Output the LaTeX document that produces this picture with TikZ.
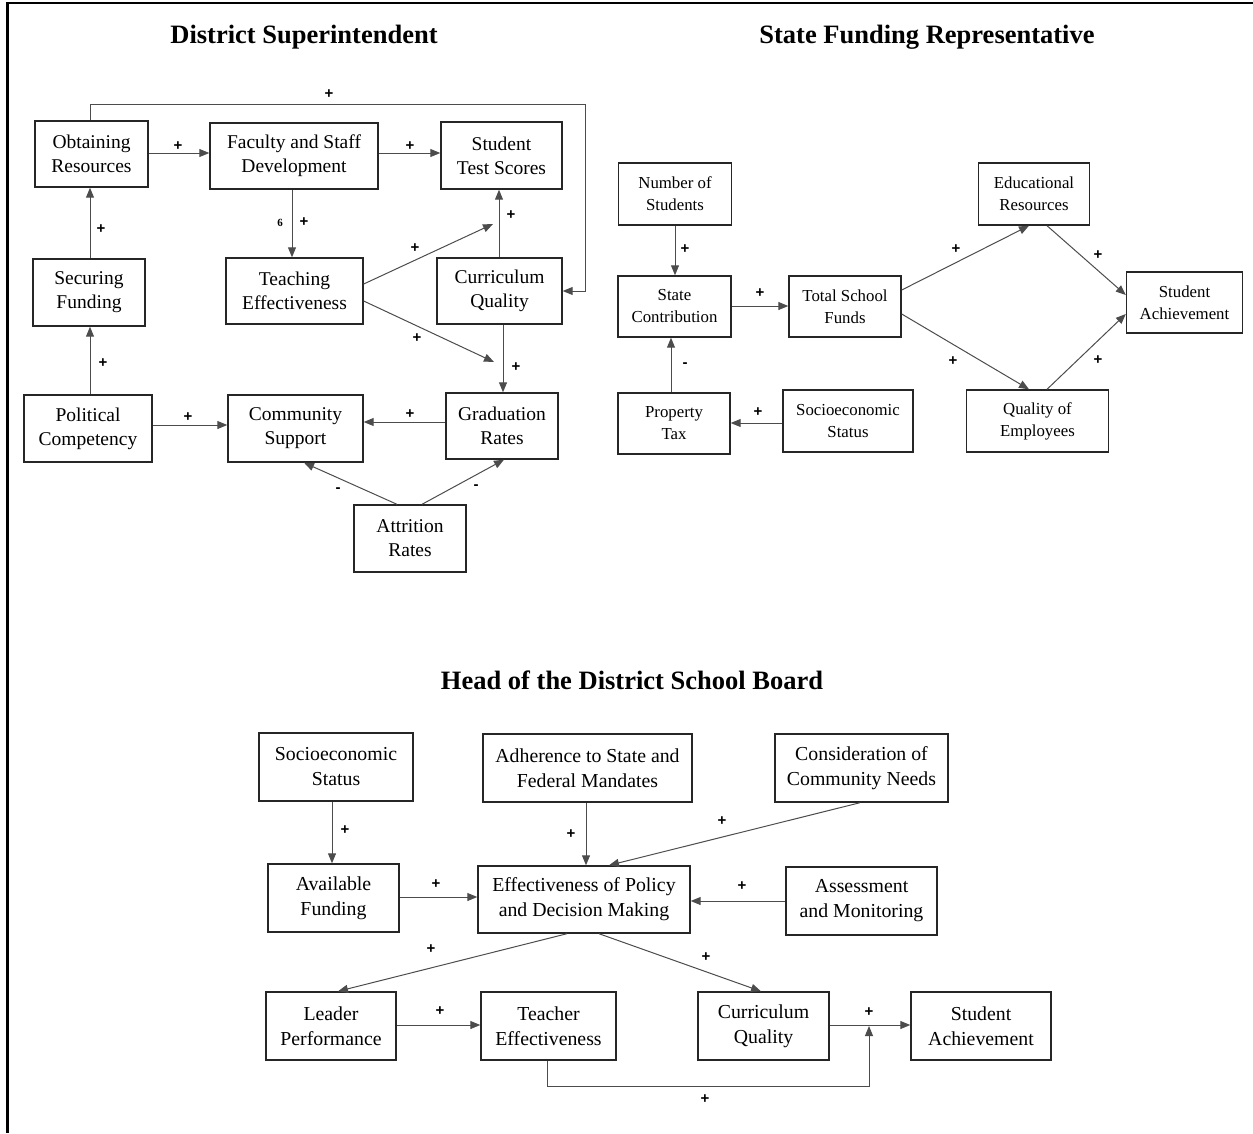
\documentclass[tikz,border=0pt]{standalone}
\usepackage{fontspec}
\setmainfont{Liberation Serif}
\newfontfamily\signfont{Liberation Sans}
\usetikzlibrary{arrows.meta}
\begin{document}
\begin{tikzpicture}[x=1pt,y=-1pt,
 box/.style={draw=black!85, line width=1.4pt, inner sep=0pt, align=center, font=\fontsize{19.5}{24}\selectfont},
 sbox/.style={box, font=\fontsize{16.8}{22}\selectfont},
 hbox/.style={box, font=\fontsize{19.8}{25}\selectfont},
 arr/.style={draw=black!70, line width=1pt, -{Triangle[length=10pt,width=8pt]}},
 sgn/.style={font=\signfont\bfseries\fontsize{15}{15}\selectfont, inner sep=0pt},
 tiny/.style={font=\bfseries\fontsize{11}{11}\selectfont, inner sep=0pt},
 ttl/.style={font=\bfseries\fontsize{26.5}{30}\selectfont, inner sep=0pt}]

\useasboundingbox (0,0) rectangle (1253,1133);
\draw[line width=2pt] (6,3) -- (1253,3);
\draw[line width=2.5pt] (7.5,2) -- (7.5,1133);

% ---------------- District Superintendent
\node[ttl] (t1) at (304,37) {District Superintendent};
\node[box, minimum width=113, minimum height=66] (obt) at (91.5,154) {Obtaining\\Resources};
\node[box, minimum width=168, minimum height=66] (fac) at (294,156) {Faculty and Staff\\Development};
\node[box, minimum width=121, minimum height=67] (sts) at (501.5,155.5) {Student\\Test Scores};
\node[box, minimum width=112, minimum height=67] (sec) at (89,292.5) {Securing\\Funding};
\node[box, minimum width=137, minimum height=66] (tea) at (294.5,291) {Teaching\\Effectiveness};
\node[box, minimum width=125, minimum height=66] (cur) at (499.5,291) {Curriculum\\Quality};
\node[box, minimum width=128, minimum height=67] (pol) at (88,428.5) {Political\\Competency};
\node[box, minimum width=135, minimum height=67] (com) at (295.5,428.5) {Community\\Support};
\node[box, minimum width=112, minimum height=66] (gra) at (502,426) {Graduation\\Rates};
\node[box, minimum width=112, minimum height=67] (att) at (410,538.5) {Attrition\\Rates};

\coordinate (fb) at (585,104);
\draw[arr] (obt.north -| 90,0) |- (fb) |- (cur.east);
\node[sgn] (s1) at (329,94) {+};
\draw[arr] (obt.east |- 0,153) -- (fac.west |- 0,153);
\node[sgn] (s2) at (178,146) {+};
\draw[arr] (fac.east |- 0,153) -- (sts.west |- 0,153);
\node[sgn] (s3) at (410,146) {+};
\draw[arr] (fac.south -| 292,0) -- (tea.north -| 292,0);
\node[tiny] (s4a) at (280,223) {6};
\node[sgn] (s4) at (304,222) {+};
\draw[arr] (sec.north -| 90,0) -- (obt.south -| 90,0);
\node[sgn] (s5) at (101,229) {+};
\draw[arr] (pol.north -| 90,0) -- (sec.south -| 90,0);
\node[sgn] (s6) at (103,363) {+};
\coordinate (ta) at (493,224);
\coordinate (tb) at (494,362);
\draw[arr] (tea.east |- 0,284) -- (ta);
\node[sgn] (s7) at (415,248) {+};
\draw[arr] (tea.east |- 0,301) -- (tb);
\node[sgn] (s8) at (417,338) {+};
\draw[arr] (cur.north -| 499,0) -- (sts.south -| 499,0);
\node[sgn] (s9) at (511,215) {+};
\draw[arr] (cur.south -| 503,0) -- (gra.north -| 503,0);
\node[sgn] (s10) at (516,367) {+};
\draw[arr] (pol.east |- 0,425) -- (com.west |- 0,425);
\node[sgn] (s11) at (188,417) {+};
\draw[arr] (gra.west |- 0,422) -- (com.east |- 0,422);
\node[sgn] (s12) at (410,414) {+};
\draw[arr] (att.north -| 397,0) -- (com.south -| 304,0);
\node[sgn] (s13) at (338,490) {-};
\draw[arr] (att.north -| 422,0) -- (gra.south -| 504,0);
\node[sgn] (s14) at (476,487) {-};

% ---------------- State Funding Representative
\node[ttl] (t2) at (927,37) {State Funding Representative};
\node[sbox, minimum width=113, minimum height=62] (nos) at (675,194) {Number of\\Students};
\node[sbox, minimum width=113, minimum height=61] (stc) at (674.5,306.5) {State\\Contribution};
\node[sbox, minimum width=112, minimum height=61] (tsf) at (845,306.5) {Total School\\Funds};
\node[sbox, minimum width=111, minimum height=62] (edu) at (1034,194) {Educational\\Resources};
\node[sbox, minimum width=116, minimum height=61] (sach) at (1184.5,302.5) {Student\\Achievement};
\node[sbox, minimum width=112, minimum height=61] (ptx) at (674,423.5) {Property\\Tax};
\node[sbox, minimum width=130, minimum height=62] (ses) at (848,421) {Socioeconomic\\Status};
\node[sbox, minimum width=142, minimum height=62] (qoe) at (1037.5,421) {Quality of\\Employees};

\draw[arr] (nos.south -| 675,0) -- (stc.north -| 675,0);
\node[sgn] (r1) at (685,249) {+};
\draw[arr] (ptx.north -| 671,0) -- (stc.south -| 671,0);
\node[sgn] (r2) at (685,365) {-};
\draw[arr] (stc.east |- 0,306) -- (tsf.west |- 0,306);
\node[sgn] (r3) at (760,293) {+};
\draw[arr] (ses.west |- 0,423) -- (ptx.east |- 0,423);
\node[sgn] (r4) at (758,412) {+};
\draw[arr] (tsf.east |- 0,290) -- (edu.south -| 1029,0);
\node[sgn] (r5) at (956,249) {+};
\draw[arr] (tsf.east |- 0,314) -- (qoe.north -| 1029,0);
\node[sgn] (r6) at (953,361) {+};
\draw[arr] (edu.south -| 1047,0) -- (sach.west |- 0,295);
\node[sgn] (r7) at (1098,255) {+};
\draw[arr] (qoe.north -| 1047,0) -- (sach.west |- 0,314);
\node[sgn] (r8) at (1098,360) {+};

% ---------------- Head of the District School Board
\node[ttl] (t3) at (632,680) {Head of the District School Board};
\node[hbox, minimum width=154, minimum height=68] (hses) at (336,767) {Socioeconomic\\Status};
\node[hbox, minimum width=209, minimum height=68] (adh) at (587.5,768) {Adherence to State and\\Federal Mandates};
\node[hbox, minimum width=173, minimum height=68] (con) at (861.5,768) {Consideration of\\Community Needs};
\node[hbox, minimum width=131, minimum height=68] (avf) at (333.5,898) {Available\\Funding};
\node[hbox, minimum width=212, minimum height=67] (eff) at (584,899.5) {Effectiveness of Policy\\and Decision Making};
\node[hbox, minimum width=151, minimum height=68] (asm) at (861.5,901) {Assessment\\and Monitoring};
\node[hbox, minimum width=130, minimum height=68] (lea) at (331,1026) {Leader\\Performance};
\node[hbox, minimum width=135, minimum height=68] (tch) at (548.5,1026) {Teacher\\Effectiveness};
\node[hbox, minimum width=131, minimum height=68] (hcur) at (763.5,1026) {Curriculum\\Quality};
\node[hbox, minimum width=140, minimum height=68] (hsa) at (981,1026) {Student\\Achievement};

\draw[arr] (hses.south -| 332,0) -- (avf.north -| 332,0);
\node[sgn] (h1) at (345,830) {+};
\draw[arr] (adh.south -| 586,0) -- (eff.north -| 586,0);
\node[sgn] (h2) at (571,834) {+};
\draw[arr] (con.south -| 860,0) -- (eff.north -| 609,0);
\node[sgn] (h3) at (722,821) {+};
\draw[arr] (avf.east |- 0,897) -- (eff.west |- 0,897);
\node[sgn] (h4) at (436,884) {+};
\draw[arr] (asm.west |- 0,901) -- (eff.east |- 0,901);
\node[sgn] (h5) at (742,886) {+};
\draw[arr] (eff.south -| 567,0) -- (lea.north -| 338,0);
\node[sgn] (h6) at (431,949) {+};
\draw[arr] (eff.south -| 599,0) -- (hcur.north -| 761,0);
\node[sgn] (h7) at (706,957) {+};
\draw[arr] (lea.east |- 0,1025) -- (tch.west |- 0,1025);
\node[sgn] (h8) at (440,1011) {+};
\draw[arr] (hcur.east |- 0,1025) -- (hsa.west |- 0,1025);
\node[sgn] (h9) at (869,1012) {+};
\coordinate (mb) at (869,1086);
\coordinate (mg) at (869,1026);
\draw[arr] (tch.south -| 547,0) |- (mb) -- (mg);
\node[sgn] (h10) at (705,1099) {+};
\end{tikzpicture}
\end{document}
